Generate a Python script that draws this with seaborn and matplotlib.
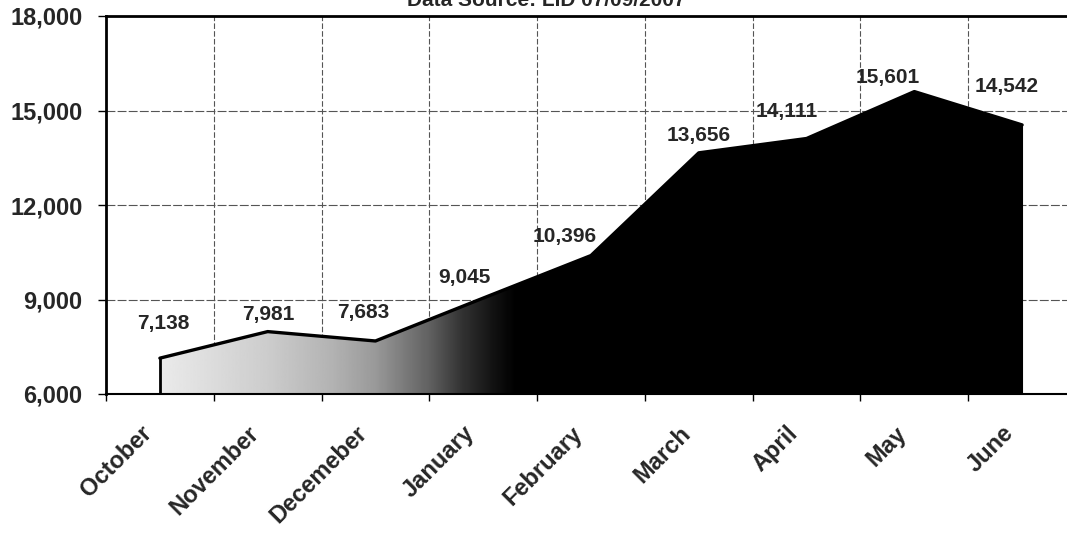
import numpy as np
import pandas as pd
import matplotlib
matplotlib.use("Agg")
import matplotlib.pyplot as plt
import matplotlib.transforms as mtransforms
import seaborn as sns
from matplotlib.patches import PathPatch

months = ["October", "November", "Decemeber", "January", "February",
          "March", "April", "May", "June"]
counts = [7138, 7981, 7683, 9045, 10396, 13656, 14111, 15601, 14542]
value_labels = ["7,138", "7,981", "7,683", "9,045", "10,396",
                "13,656", "14,111", "15,601", "14,542"]
y_ticks = [6000, 9000, 12000, 15000, 18000]
y_tick_labels = ["6,000", "9,000", "12,000", "15,000", "18,000"]
title = "Data Source: LID 07/09/2007"

# label placement offsets in pixels (style)
label_dx = [3, 1, -12, -19, -26, 0, -20, -27, -15]
label_dy = [35, 17, 28, 21, 19, 17, 27, 14, 38]

df = pd.DataFrame({"month": months, "count": counts})
df["pos"] = np.arange(len(df))

sns.set_style("white")
plt.rcParams["font.family"] = ["Liberation Sans", "DejaVu Sans"]

fig = plt.figure(figsize=(10.67, 5.41), dpi=100)
ax = fig.add_axes([106 / 1067, (541 - 394) / 541, 970 / 1067, 378 / 541])

ymin, ymax = 6000, 18000
xmin, xmax = -0.5, len(df) - 0.5

# area with left-to-right gradient (light stipple grey -> black)
poly = ax.fill_between(df["pos"], df["count"], ymin, color="none", lw=0)
clip = PathPatch(poly.get_paths()[0], transform=ax.transData,
                 facecolor="none", edgecolor="none")
ax.add_patch(clip)
gx = np.linspace(xmin, xmax, 900)
dark = np.interp(gx, [-0.5, 0.0, 1.0, 1.6, 2.0, 2.5, 2.8, 3.1, 3.3, 8.5],
                 [0.04, 0.08, 0.20, 0.30, 0.40, 0.62, 0.80, 0.93, 1.0, 1.0])
im = ax.imshow(dark[np.newaxis, :], cmap="gray_r", vmin=0, vmax=1,
               extent=[xmin, xmax, ymin, ymax], aspect="auto",
               interpolation="bilinear", zorder=2)
im.set_clip_path(clip)

# outline
sns.lineplot(data=df, x="pos", y="count", color="black", lw=2.4, ax=ax,
             zorder=3)
ax.plot([df["pos"].iloc[0]] * 2, [ymin, df["count"].iloc[0]], color="black",
        lw=2, zorder=3)
ax.plot([df["pos"].iloc[-1]] * 2, [ymin, df["count"].iloc[-1]], color="black",
        lw=1.5, zorder=3)

ax.set_xlim(xmin, xmax)
ax.set_ylim(ymin, ymax)

# gridlines
for b in np.arange(0.5, len(df) - 0.5, 1.0):
    ax.axvline(b, color="#555555", lw=0.8, dashes=(5, 2), zorder=1)
for yv in y_ticks[1:-1]:
    ax.axhline(yv, color="#555555", lw=0.8, dashes=(8, 2), zorder=1)

# ticks
ax.set_yticks(y_ticks)
ax.set_yticklabels(y_tick_labels, fontsize=17, fontweight="bold")
ax.tick_params(axis="y", direction="out", length=6, width=1, color="black",
               pad=11, left=True)
ax.set_xticks(np.arange(-0.5, len(df) - 1, 1.0))
ax.set_xticklabels([])
ax.tick_params(axis="x", which="major", direction="out", length=5, width=1,
               color="black", bottom=True)
ax.set_xticks(df["pos"], minor=True)
ax.set_xticklabels(months, minor=True, rotation=45, ha="right",
                   rotation_mode="anchor", fontsize=17, fontweight="bold")
ax.tick_params(axis="x", which="minor", length=0, pad=20)
shift = mtransforms.ScaledTranslation(-0.2, 0, fig.dpi_scale_trans)
for lab in ax.get_xticklabels(minor=True):
    lab.set_transform(lab.get_transform() + shift)
ax.set_xlabel("")
ax.set_ylabel("")

for s in ["left", "top", "bottom"]:
    ax.spines[s].set_visible(True)
    ax.spines[s].set_color("black")
ax.spines["left"].set_linewidth(2)
ax.spines["top"].set_linewidth(2)
ax.spines["bottom"].set_linewidth(1.5)
ax.spines["right"].set_visible(False)

# value labels
for p, v, t, dx, dy in zip(df["pos"], df["count"], value_labels,
                           label_dx, label_dy):
    ax.annotate(t, (p, v), xytext=(dx, dy), textcoords="offset pixels",
                ha="center", va="center", fontsize=15, fontweight="bold",
                zorder=5)

fig.text(0.512, 1.0, title, ha="center", va="center", fontsize=15,
         fontweight="bold")

fig.savefig("out.png", dpi=100)
